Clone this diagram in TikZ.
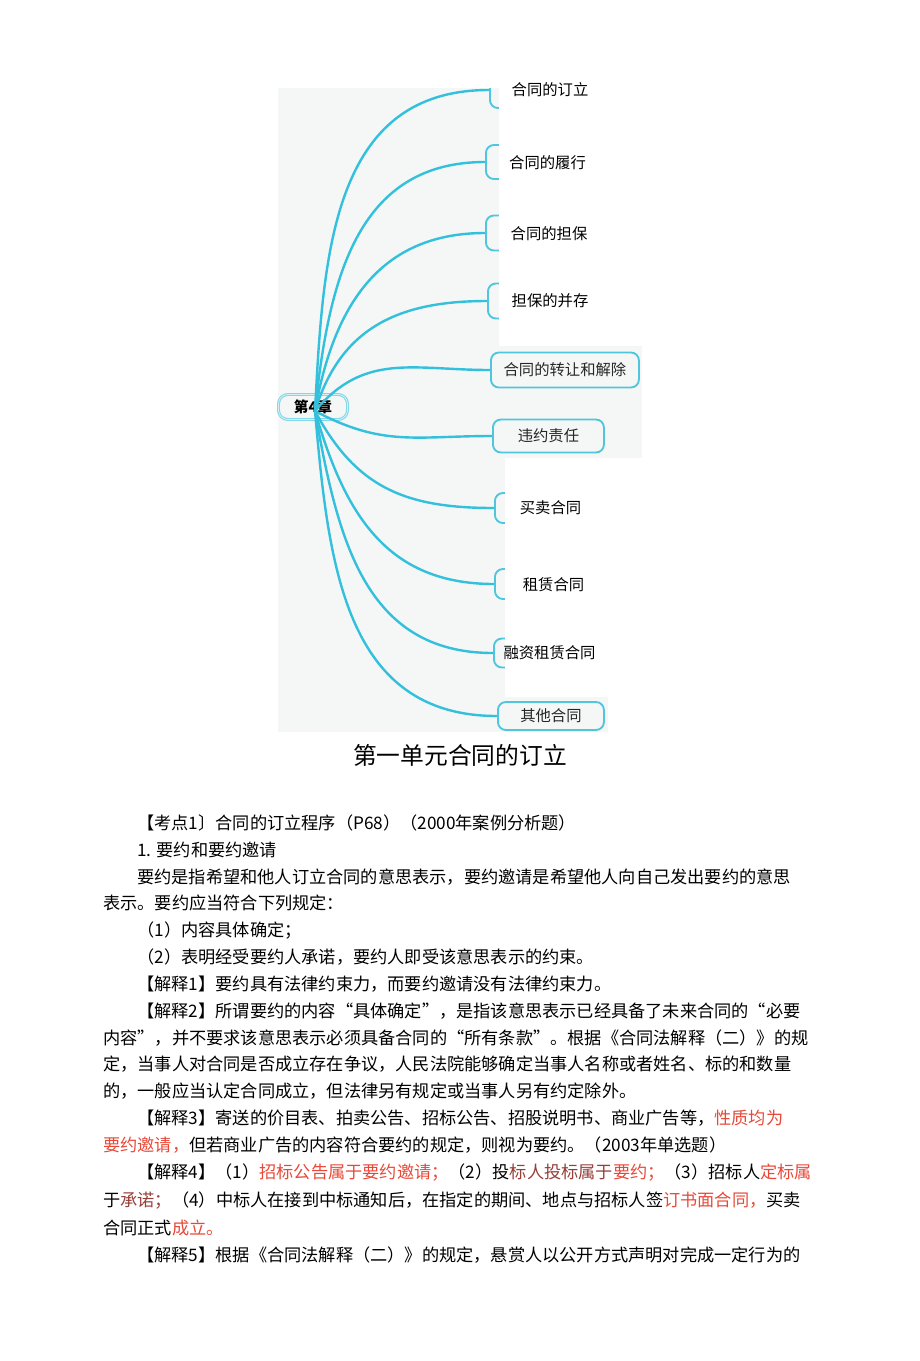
\documentclass[tikz,border=0pt]{standalone}
\usepackage{fontspec}
\newfontfamily\cjk{Noto Sans CJK SC}
\definecolor{mapline}{RGB}{50,192,220}
\definecolor{boxline}{RGB}{80,198,222}
\definecolor{mapbg}{RGB}{245,246,246}
\definecolor{hired}{RGB}{232,72,56}
\definecolor{darkred}{RGB}{150,62,56}
\newcommand{\hl}[1]{\textcolor{hired}{#1}}
\newcommand{\hd}[1]{\textcolor{darkred}{#1}}

\begin{document}
\begin{tikzpicture}[x=0.75pt,y=-0.75pt,
  leaf/.style={draw=boxline,line width=1.4pt,rounded corners=6pt,fill=mapbg,inner sep=0pt,anchor=west,minimum width=90pt},
  leaftext/.style={font=\cjk\fontsize{11.5pt}{13pt}\selectfont,text=black!85,inner sep=1pt},
  txt/.style={anchor=base west,inner sep=0pt,font=\cjk\fontsize{12.9pt}{15pt}\selectfont}]
   \useasboundingbox (0,0) rectangle (920,1361);
   \fill[mapbg] (278,88) rectangle (642,732);

   \node [draw=boxline!70,double=boxline!25,double distance=0.6pt,line width=0.8pt,rounded corners=7pt,fill=mapbg,minimum width=51.75pt,minimum height=18.75pt,inner sep=0pt,font=\cjk\bfseries\fontsize{11pt}{12pt}\selectfont] (root) at (313,407) {第4章};
   \coordinate (hub) at (315,411);

   \node [leaf,minimum height=27pt] (b1) at (489,90) {};
   \node [leaf,minimum height=25.5pt] (b2) at (485,162) {};
   \node [leaf,minimum height=26.25pt] (b3) at (485,233) {};
   \node [leaf,minimum height=26.25pt] (b4) at (487,301) {};
   \node [leaf,minimum width=111pt,minimum height=26.25pt] (b5) at (490,370) {};
   \node [leaf,minimum width=83.25pt,minimum height=24.75pt] (b6) at (492,436) {};
   \node [leaf,minimum height=22.5pt] (b7) at (494,508) {};
   \node [leaf,minimum height=22.5pt] (b8) at (494,584) {};
   \node [leaf,minimum height=21.75pt] (b9) at (493,653) {};
   \node [leaf,minimum width=79.5pt,minimum height=21pt] (b10) at (497,716) {};

   \foreach \b/\a in {b1/87,b2/84,b3/80,b4/73,b5/50,b6/-28,b7/-62,b8/-74,b9/-80,b10/-85}
      \draw [mapline,line width=1.8pt] (hub) to[out=\a,in=180,looseness=1.1] (\b.west);

   % pasted white patches over the screenshot
   \fill[white] (270,40) rectangle (660,88);
   \fill[white] (499,88) rectangle (660,346);
   \fill[white] (505,458) rectangle (660,697);
   \fill[white] (608,697) rectangle (660,740);

   \node [leaftext,text=black] (t1) at (550,90) {合同的订立};
   \node [leaftext,text=black] (t2) at (547.5,163) {合同的履行};
   \node [leaftext,text=black] (t3) at (549,234) {合同的担保};
   \node [leaftext,text=black] (t4) at (550,301) {担保的并存};
   \node [leaftext] (t5) at (b5.center) {合同的转让和解除};
   \node [leaftext] (t6) at (b6.center) {违约责任};
   \node [leaftext,text=black] (t7) at (550.5,508) {买卖合同};
   \node [leaftext,text=black] (t8) at (553.5,585) {租赁合同};
   \node [leaftext,text=black] (t9) at (549.5,653) {融资租赁合同};
   \node [leaftext] (t10) at (b10.center) {其他合同};

   \node [font=\cjk\fontsize{17.8pt}{20pt}\selectfont,inner sep=0pt] (title) at (460,755) {第一单元合同的订立};

   \node [txt] (p1) at (137,829.5) {【考点1〕合同的订立程序（P68）（2000年案例分析题）};
   \node [txt] (p2) at (137,856.5) {1. 要约和要约邀请};
   \node [txt] (p3) at (137,883.5) {要约是指希望和他人订立合同的意思表示，要约邀请是希望他人向自己发出要约的意思};
   \node [txt] (p4) at (103,909.5) {表示。要约应当符合下列规定：};
   \node [txt] (p5) at (137,936.5) {（1）内容具体确定；};
   \node [txt] (p6) at (137,963.5) {（2）表明经受要约人承诺，要约人即受该意思表示的约束。};
   \node [txt] (p7) at (137,990.5) {【解释1】要约具有法律约束力，而要约邀请没有法律约束力。};
   \node [txt] (p8) at (137,1017.5) {【解释2】所谓要约的内容“具体确定”，是指该意思表示已经具备了未来合同的“必要};
   \node [txt] (p9) at (103,1044.5) {内容”，并不要求该意思表示必须具备合同的“所有条款”。根据《合同法解释（二）》的规};
   \node [txt] (p10) at (103,1070.5) {定，当事人对合同是否成立存在争议，人民法院能够确定当事人名称或者姓名、标的和数量};
   \node [txt] (p11) at (103,1097.5) {的，一般应当认定合同成立，但法律另有规定或当事人另有约定除外。};
   \node [txt] (p12) at (137,1124.5) {【解释3】寄送的价目表、拍卖公告、招标公告、招股说明书、商业广告等，\hl{性质均为}};
   \node [txt] (p13) at (103,1151.5) {\hl{要约邀请，}但若商业广告的内容符合要约的规定，则视为要约。（2003年单选题）};
   \node [txt] (p14) at (137,1178.5) {【解释4】（1）\hl{招标公告属于要约邀请；}（2）投\hd{标人投标属于}\hl{要约；}（3）招标人\hl{定标属}};
   \node [txt] (p15) at (103,1206.5) {于\hd{承诺；}（4）中标人在接到中标通知后，在指定的期间、地点与招标人签\hl{订书面合同，}买卖};
   \node [txt] (p16) at (103,1234.5) {合同正式\hl{成立。}};
   \node [txt] (p17) at (137,1261.5) {【解释5】根据《合同法解释（二）》的规定，悬赏人以公开方式声明对完成一定行为的};
\end{tikzpicture}
\end{document}
